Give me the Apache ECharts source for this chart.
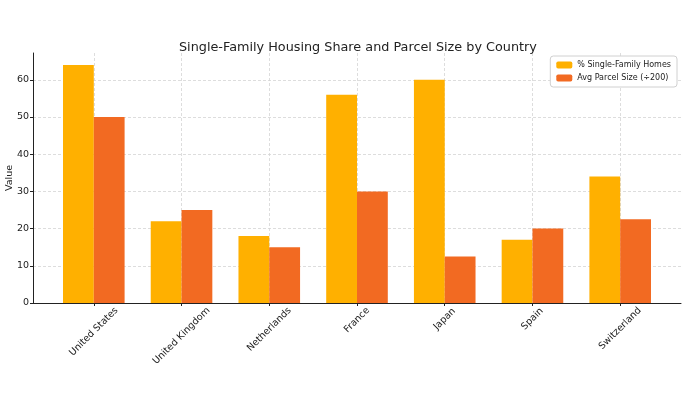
<!DOCTYPE html>
<html>
<head>
<meta charset="utf-8">
<script src="https://cdn.jsdelivr.net/npm/echarts@6/dist/echarts.min.js"></script>
<style>
  html, body { margin: 0; padding: 0; background: #fff; }
  #chart { width: 690px; height: 397px; }
</style>
</head>
<body>
<div id="chart"></div>
<script>
const categories = ['United States', 'United Kingdom', 'Netherlands', 'France', 'Japan', 'Spain', 'Switzerland']
const singleFamily = [64, 22, 18, 56, 60, 17, 34]
const parcelSize = [50, 25, 15, 30, 12.5, 20, 22.5]
const yTicks = [0, 10, 20, 30, 40, 50, 60]
const xTicks = categories.map((_, i) => i)

const chart = echarts.init(document.getElementById('chart'))
const font = 'DejaVu Sans'
const labelSize = 9.5
const gridLine = { show: true, lineStyle: { color: '#d4d4d4', type: [3, 2], width: 0.8 } }

// rotated tick labels: centre each one under its tick like matplotlib does,
// longer names sit a little lower, so pad them per label
const ctx = document.createElement('canvas').getContext('2d')
ctx.font = labelSize + 'px "' + font + '"'
const rich = {}
categories.forEach((name, i) => {
  const w = ctx.measureText(name).width
  const d = Math.max(0, 2 + 0.354 * (w + 11) - 16)
  const p = d / 0.707
  rich['c' + i] = { fontFamily: font, fontSize: labelSize, color: '#222', padding: [p, p, 0, 0] }
})

chart.setOption({
  backgroundColor: '#fff',
  animation: false,
  textStyle: { fontFamily: font },
  title: {
    text: 'Single-Family Housing Share and Parcel Size by Country',
    left: 174,
    top: 36,
    textStyle: { fontFamily: font, fontSize: 12.8, fontWeight: 'normal', color: '#222' }
  },
  legend: {
    orient: 'vertical',
    right: 13,
    top: 56,
    itemWidth: 16,
    itemHeight: 7,
    itemGap: 5,
    padding: [5, 6],
    borderColor: '#d0d0d0',
    borderWidth: 1,
    borderRadius: 3,
    backgroundColor: '#fff',
    textStyle: { fontFamily: font, fontSize: 8, color: '#222' },
    data: ['% Single-Family Homes', 'Avg Parcel Size (÷200)']
  },
  grid: { left: 33, right: 9, top: 53, bottom: 94, containLabel: false, outerBoundsMode: 'none' },
  xAxis: {
    type: 'value',
    min: -0.693,
    max: 6.693,
    axisLine: { show: true, onZero: false, lineStyle: { color: '#222', width: 1 } },
    axisTick: { show: true, length: 3, customValues: xTicks, lineStyle: { color: '#222' } },
    axisLabel: {
      customValues: xTicks,
      rotate: 45,
      align: 'center',
      verticalAlign: 'middle',
      margin: 16,
      fontFamily: font,
      fontSize: labelSize,
      color: '#222',
      rich: rich,
      formatter: (v) => {
        const i = Math.round(v)
        return '{c' + i + '|' + categories[i] + '}'
      }
    },
    splitLine: gridLine
  },
  yAxis: {
    type: 'value',
    min: 0,
    max: 67.2,
    name: 'Value',
    nameLocation: 'middle',
    nameGap: 18,
    nameMoveOverlap: false,
    nameTextStyle: { fontFamily: font, fontSize: 9.5, color: '#222' },
    axisLine: { show: true, onZero: false, lineStyle: { color: '#222', width: 1 } },
    axisTick: { show: true, length: 3, customValues: yTicks, lineStyle: { color: '#222' } },
    axisLabel: { customValues: yTicks, fontFamily: font, fontSize: 9.5, color: '#222', margin: 4 },
    splitLine: gridLine
  },
  series: [
    {
      name: '% Single-Family Homes',
      type: 'bar',
      barWidth: 30.8,
      barGap: '0%',
      itemStyle: { color: '#FFB000' },
      data: singleFamily.map((v, i) => [i, v])
    },
    {
      name: 'Avg Parcel Size (÷200)',
      type: 'bar',
      barWidth: 30.8,
      barGap: '0%',
      itemStyle: { color: '#F26A22' },
      data: parcelSize.map((v, i) => [i, v])
    }
  ]
})
</script>
</body>
</html>
